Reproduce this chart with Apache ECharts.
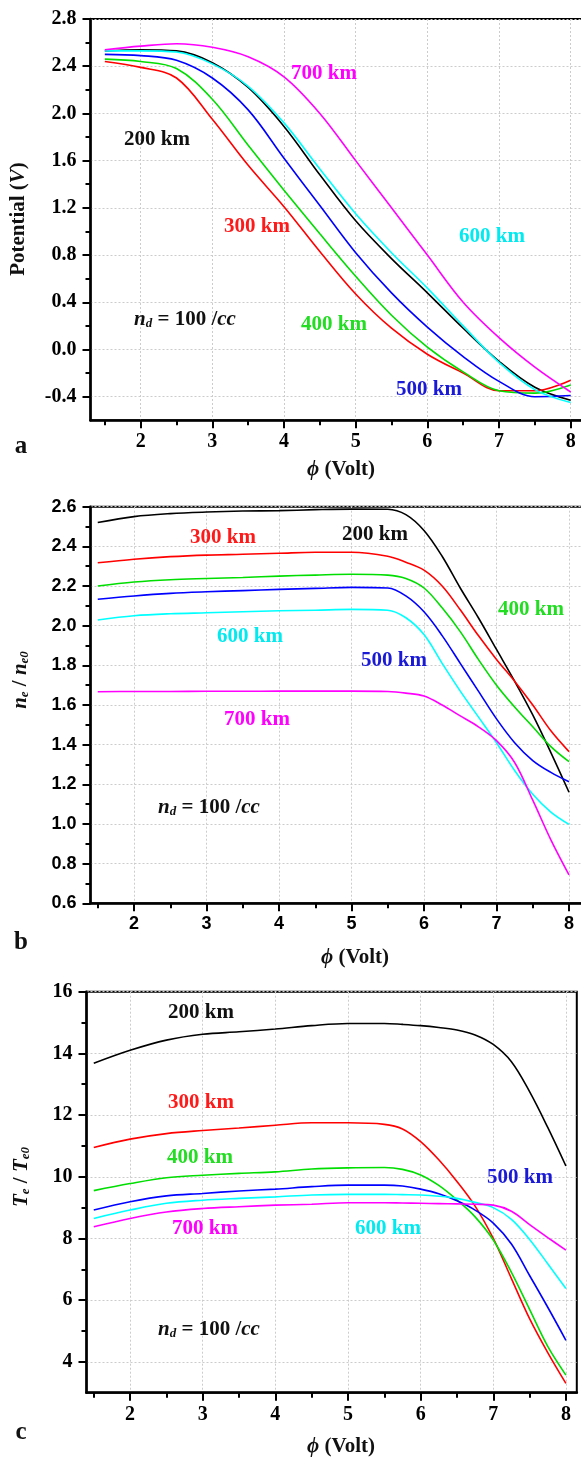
<!DOCTYPE html>
<html>
<head>
<meta charset="utf-8">
<script src="https://cdn.jsdelivr.net/npm/echarts@6/dist/echarts.min.js"></script>
<style>
  html, body { margin: 0; padding: 0; background: #fff; }
  #chart { width: 581px; height: 1461px; }
</style>
</head>
<body>
<div id="chart"></div>
<script>
// x values (phi, Volt)
const phi = [1.5, 2, 2.5, 3, 3.5, 4, 4.5, 5, 5.5, 6, 6.5, 7, 7.5, 8];
const phiFine = [1.5, 2, 2.5, 3, 3.5, 4, 4.5, 5, 5.5, 5.75, 6, 6.25, 6.5, 6.75, 7, 7.25, 7.5, 7.75, 8];
const phiTicks = [2, 3, 4, 5, 6, 7, 8];
const phiMinor = [1.5, 2.5, 3.5, 4.5, 5.5, 6.5, 7.5];

// panel a : potential
const pot200 = [2.53, 2.54, 2.53, 2.43, 2.22, 1.89, 1.48, 1.09, 0.77, 0.48, 0.18, -0.10, -0.32, -0.43];
const pot300 = [2.44, 2.39, 2.30, 1.95, 1.56, 1.21, 0.83, 0.47, 0.18, -0.04, -0.20, -0.35, -0.35, -0.26];
const pot400 = [2.46, 2.44, 2.38, 2.12, 1.73, 1.35, 0.98, 0.62, 0.29, 0.02, -0.19, -0.35, -0.37, -0.30];
const pot500 = [2.50, 2.49, 2.45, 2.30, 2.03, 1.62, 1.22, 0.82, 0.48, 0.19, -0.06, -0.27, -0.40, -0.39];
const pot600 = [2.53, 2.53, 2.52, 2.42, 2.23, 1.92, 1.53, 1.15, 0.82, 0.52, 0.20, -0.11, -0.34, -0.45];
const pot700 = [2.54, 2.57, 2.59, 2.56, 2.48, 2.31, 2.00, 1.60, 1.20, 0.80, 0.40, 0.10, -0.15, -0.36];
const potTicks = [-0.4, 0, 0.4, 0.8, 1.2, 1.6, 2.0, 2.4, 2.8];
const potMinor = [-0.2, 0.2, 0.6, 1.0, 1.4, 1.8, 2.2, 2.6];

// panel b : ne / ne0
const ne200 = [2.52, 2.55, 2.565, 2.573, 2.578, 2.58, 2.585, 2.588, 2.587, 2.56, 2.48, 2.35, 2.19, 2.04, 1.88, 1.72, 1.55, 1.36, 1.16];
const ne300 = [2.317, 2.335, 2.348, 2.356, 2.36, 2.365, 2.37, 2.37, 2.35, 2.32, 2.28, 2.20, 2.08, 1.95, 1.83, 1.72, 1.60, 1.47, 1.365];
const ne400 = [2.20, 2.22, 2.232, 2.238, 2.243, 2.25, 2.255, 2.259, 2.255, 2.238, 2.19, 2.09, 1.97, 1.83, 1.70, 1.59, 1.49, 1.39, 1.314];
const ne500 = [2.133, 2.15, 2.163, 2.171, 2.177, 2.183, 2.188, 2.193, 2.19, 2.15, 2.07, 1.95, 1.81, 1.67, 1.53, 1.41, 1.32, 1.26, 1.213];
const ne600 = [2.029, 2.05, 2.06, 2.065, 2.07, 2.075, 2.078, 2.082, 2.078, 2.04, 1.955, 1.81, 1.67, 1.54, 1.41, 1.27, 1.15, 1.06, 0.998];
const ne700 = [1.667, 1.668, 1.668, 1.669, 1.669, 1.67, 1.67, 1.67, 1.668, 1.66, 1.645, 1.60, 1.545, 1.49, 1.42, 1.31, 1.12, 0.92, 0.743];
const neTicks = [0.6, 0.8, 1.0, 1.2, 1.4, 1.6, 1.8, 2.0, 2.2, 2.4, 2.6];
const neMinor = [0.7, 0.9, 1.1, 1.3, 1.5, 1.7, 1.9, 2.1, 2.3, 2.5];

// panel c : Te / Te0
const te200 = [13.68, 14.1, 14.43, 14.62, 14.7, 14.79, 14.9, 14.97, 14.97, 14.94, 14.9, 14.84, 14.76, 14.6, 14.29, 13.73, 12.76, 11.6, 10.35];
const te300 = [10.95, 11.22, 11.4, 11.5, 11.58, 11.67, 11.75, 11.75, 11.7, 11.55, 11.14, 10.55, 9.85, 9.05, 8.0, 6.7, 5.4, 4.3, 3.3];
const te400 = [9.55, 9.78, 9.97, 10.05, 10.11, 10.16, 10.25, 10.29, 10.3, 10.24, 10.06, 9.72, 9.25, 8.7, 7.95, 6.9, 5.7, 4.5, 3.57];
const te500 = [8.92, 9.19, 9.38, 9.46, 9.54, 9.6, 9.68, 9.73, 9.73, 9.7, 9.6, 9.45, 9.22, 8.92, 8.5, 7.82, 6.8, 5.77, 4.7];
const te600 = [8.65, 8.92, 9.14, 9.24, 9.3, 9.35, 9.41, 9.43, 9.43, 9.42, 9.41, 9.37, 9.3, 9.17, 9.0, 8.62, 7.97, 7.18, 6.38];
const te700 = [8.38, 8.65, 8.86, 8.97, 9.03, 9.08, 9.11, 9.16, 9.16, 9.15, 9.14, 9.13, 9.12, 9.11, 9.08, 8.88, 8.45, 8.03, 7.62];
const teTicks = [4, 6, 8, 10, 12, 14, 16];
const teMinor = [5, 7, 9, 11, 13, 15];

const altitudes = ['200 km', '300 km', '400 km', '500 km', '600 km', '700 km'];
const lineColors = ['#000000', '#ff0000', '#00dd00', '#0000ff', '#00ffff', '#ff00ff'];
const textColors = ['#111111', '#ff1a1a', '#22dd22', '#1a1ad6', '#00eaf0', '#ff00ff'];

const serif = 'Liberation Serif';
const sans = 'Liberation Sans';

const chart = echarts.init(document.getElementById('chart'));

// plot boxes of the three panels
const boxes = [
  { left: 90.5, top: 19, width: 494.5, height: 401.3 },
  { left: 90.5, top: 506.7, width: 493, height: 396.6 },
  { left: 86.5, top: 991.7, width: 490.3, height: 401 }
];

const panels = [
  { xMin: 1.3, xMax: 8.2, yMin: -0.6, yMax: 2.8, yStep: 0.4, yTicks: potTicks, yMinor: potMinor,
    font: serif, size: 20, digits: 1, xs: phi, ys: [pot200, pot300, pot400, pot500, pot600, pot700] },
  { xMin: 1.4, xMax: 8.2, yMin: 0.6, yMax: 2.6, yStep: 0.2, yTicks: neTicks, yMinor: neMinor,
    font: sans, size: 18, digits: 1, xs: phiFine, ys: [ne200, ne300, ne400, ne500, ne600, ne700] },
  { xMin: 1.4, xMax: 8.15, yMin: 3, yMax: 16, yStep: 2, yTicks: teTicks, yMinor: teMinor,
    font: serif, size: 20, digits: 0, xs: phiFine, ys: [te200, te300, te400, te500, te600, te700] }
];

const grid = [];
const xAxis = [];
const yAxis = [];
const series = [];

const gridLine = { show: true, lineStyle: { color: '#cccccc', type: [2, 2], width: 1 } };

panels.forEach(function (p, i) {
  grid.push(Object.assign({ show: true, borderColor: '#000', borderWidth: 2, outerBoundsMode: 'none' }, boxes[i]));
  xAxis.push({
    type: 'value', gridIndex: i, min: p.xMin, max: p.xMax, minInterval: 1, maxInterval: 1,
    axisLine: { show: true, onZero: false, lineStyle: { color: '#000', width: 2.5 } },
    axisTick: { show: true, inside: false, length: 8, customValues: phiTicks, lineStyle: { color: '#000', width: 2 } },
    axisLabel: { customValues: phiTicks, margin: 12, color: '#000', fontFamily: p.font, fontWeight: 'bold', fontSize: p.size },
    splitLine: gridLine
  });
  yAxis.push({
    type: 'value', gridIndex: i, min: p.yMin, max: p.yMax, minInterval: p.yStep, maxInterval: p.yStep,
    axisLine: { show: true, onZero: false, lineStyle: { color: '#000', width: 2.5 } },
    axisTick: { show: true, inside: false, length: 8, customValues: p.yTicks, lineStyle: { color: '#000', width: 2 } },
    axisLabel: {
      customValues: p.yTicks, margin: 14, color: '#000', fontFamily: p.font, fontWeight: 'bold', fontSize: p.size,
      formatter: function (v) { return Number(v).toFixed(p.digits); }
    },
    splitLine: gridLine
  });
  p.ys.forEach(function (ys, k) {
    series.push({
      name: altitudes[k] + ' ' + i,
      type: 'line', xAxisIndex: i, yAxisIndex: i,
      data: p.xs.map(function (x, j) { return [x, ys[j]]; }),
      symbol: 'none', smooth: 0.35,
      lineStyle: { color: lineColors[k], width: 1.6 },
      itemStyle: { color: lineColors[k] }
    });
  });
});

// second copy of each box only for the half-step minor ticks
panels.forEach(function (p, i) {
  grid.push(Object.assign({ show: false, outerBoundsMode: 'none' }, boxes[i]));
  xAxis.push({
    type: 'value', gridIndex: 3 + i, min: p.xMin, max: p.xMax,
    axisLine: { show: false, onZero: false },
    axisTick: { show: true, inside: false, length: 5, customValues: phiMinor, lineStyle: { color: '#000', width: 2 } },
    axisLabel: { show: false }, splitLine: { show: false }
  });
  yAxis.push({
    type: 'value', gridIndex: 3 + i, min: p.yMin, max: p.yMax,
    axisLine: { show: false, onZero: false },
    axisTick: { show: true, inside: false, length: 5, customValues: p.yMinor, lineStyle: { color: '#000', width: 2 } },
    axisLabel: { show: false }, splitLine: { show: false }
  });
});

const rich = {
  b: { fontFamily: serif, fontWeight: 'bold', fontSize: 21, color: '#111' },
  i: { fontFamily: serif, fontWeight: 'bold', fontStyle: 'italic', fontSize: 21, color: '#111' },
  s: { fontFamily: serif, fontWeight: 'bold', fontStyle: 'italic', fontSize: 13, color: '#111', verticalAlign: 'bottom' }
};

function text(str, x, y, color, rotate, size) {
  return {
    type: 'text', x: x, y: y, rotation: rotate ? Math.PI / 2 : 0, z: 10,
    style: {
      text: str, fill: color || '#111', align: 'center', verticalAlign: 'middle',
      font: 'bold ' + (size || 21) + 'px "' + serif + '"', rich: rich
    }
  };
}

// altitude labels: [panel, series index, x, y]
const tags = [
  [0, 5, 324, 74], [0, 0, 157, 140], [0, 1, 257, 227], [0, 4, 492, 237], [0, 2, 334, 325], [0, 3, 429, 390],
  [1, 1, 223, 538], [1, 0, 375, 535], [1, 2, 531, 610], [1, 4, 250, 637], [1, 3, 394, 661], [1, 5, 257, 720],
  [2, 0, 201, 1013], [2, 1, 201, 1103], [2, 2, 200, 1158], [2, 3, 520, 1178], [2, 5, 205, 1229], [2, 4, 388, 1229]
];

const graphic = tags.map(function (t) { return text(altitudes[t[1]], t[2], t[3], textColors[t[1]]); });

const nd = '{i|n}{s|d}{b| = 100 /}{i|cc}';
graphic.push(text(nd, 185, 320), text(nd, 209, 808), text(nd, 209, 1330));

const xName = '{i|ϕ}{b| (Volt)}';
graphic.push(text(xName, 341, 470), text(xName, 355, 958), text(xName, 341, 1447));

graphic.push(
  text('{b|Potential (}{i|V}{b|)}', 19, 219, null, true),
  text('{i|n}{s|e}{b| / }{i|n}{s|e0}', 21, 680, null, true),
  text('{i|T}{s|e}{b| / }{i|T}{s|e0}', 22, 1177, null, true)
);

graphic.push(text('a', 21, 447, null, false, 25), text('b', 21, 943, null, false, 25), text('c', 21, 1433, null, false, 25));

chart.setOption({
  animation: false,
  backgroundColor: '#fff',
  grid: grid,
  xAxis: xAxis,
  yAxis: yAxis,
  series: series,
  graphic: graphic
});
</script>
</body>
</html>
